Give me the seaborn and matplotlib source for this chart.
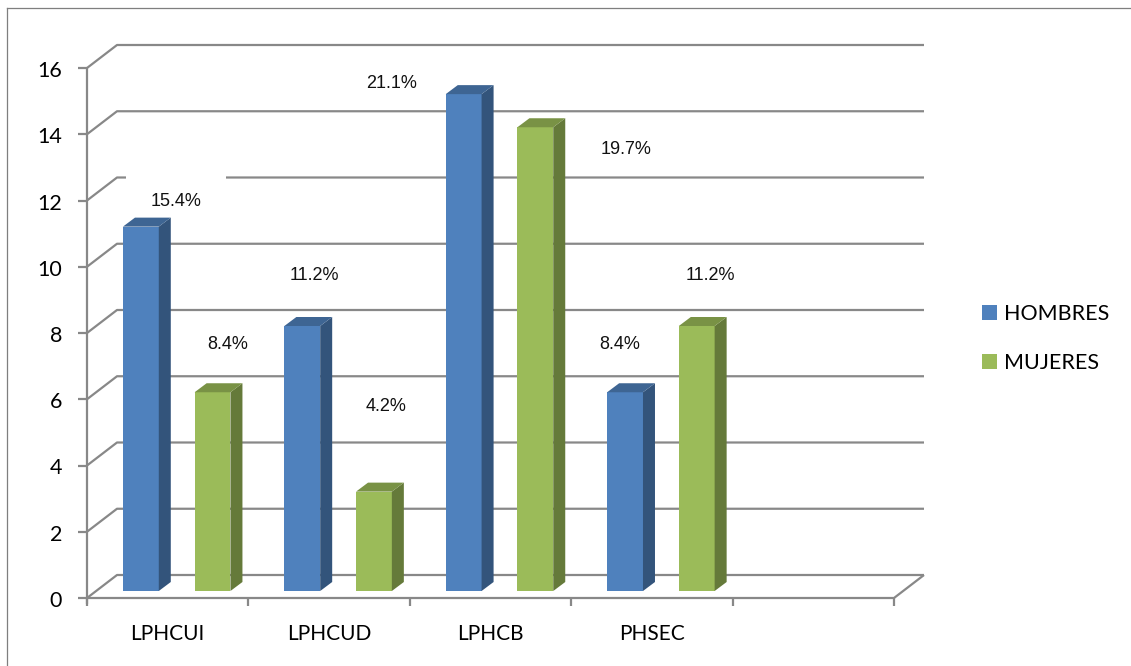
import matplotlib
matplotlib.use("Agg")
import matplotlib.pyplot as plt
from matplotlib.patches import Polygon, Rectangle
from matplotlib.lines import Line2D
import numpy as np
import pandas as pd
import seaborn as sns

# ---- data -------------------------------------------------------------
categorias = ["LPHCUI", "LPHCUD", "LPHCB", "PHSEC"]
series = ["HOMBRES", "MUJERES"]
hombres = [11, 8, 15, 6]
mujeres = [6, 3, 14, 8]
pct_hombres = ["15.4%", "11.2%", "21.1%", "8.4%"]
pct_mujeres = ["8.4%", "4.2%", "19.7%", "11.2%"]
y_ticks = [0, 2, 4, 6, 8, 10, 12, 14, 16]

# label placement relative to the top of each bar (pixels: right, up)
off_hombres = [(35, 23), (12, 49), (-72, 9), (-5, 46)]
off_mujeres = [(15, 46), (12, 83), (91, -24), (14, 49)]

# ---- style ------------------------------------------------------------
AZUL = "#4F81BD"
VERDE = "#9BBB59"
GRID = "#888888"
plt.rcParams["font.family"] = ["Lato", "DejaVu Sans"]

W, H = 1131, 666
fig = plt.figure(figsize=(W / 100, H / 100), dpi=100)
fig.patch.set_facecolor("white")

# axes = plane that holds the front faces of the bars
ax_l, ax_r, ax_b, ax_t = 96, 903, 591, 61
ax = fig.add_axes([ax_l / W, 1 - ax_b / H, (ax_r - ax_l) / W, (ax_b - ax_t) / H])

df = pd.DataFrame({
    "categoria": categorias * 2,
    "valor": hombres + mujeres,
    "sexo": [series[0]] * len(hombres) + [series[1]] * len(mujeres),
})

sns.barplot(data=df, x="categoria", y="valor", hue="sexo", order=categorias,
            hue_order=series, palette=[AZUL, VERDE], saturation=1,
            width=0.888, gap=0.5, errorbar=None, linewidth=0,
            edgecolor="none", zorder=3, ax=ax)

ax.set_xlim(-0.5, 4.5)
ax.set_ylim(0, 16)
ax.axis("off")

ppx = ax.bbox.width / 5.0    # pixels per category slot
ppy = ax.bbox.height / 16.0  # pixels per value unit

def plane(x, v, dxp, dyp):
    return x + dxp / ppx, v + dyp / ppy

FRONT = (-9, -7)   # floor edge / value axis plane
BACK = (21, 16)    # back wall plane
DEPTH = (12, 9)    # depth of each bar

line_kw = dict(color=GRID, lw=1.6, clip_on=False, solid_capstyle="butt", zorder=1)

# walls: back gridlines and side-wall diagonals
for t in y_ticks:
    fx, fy = plane(-0.5, t, *FRONT)
    bx, by = plane(-0.5, t, *BACK)
    ex, ey = plane(4.5, t, *BACK)
    ax.plot([fx, bx, ex], [fy, by, ey], **line_kw)

# floor front edge and right edge
fx0, fy0 = plane(-0.5, 0, *FRONT)
fx1, fy1 = plane(4.5, 0, *FRONT)
bx1, by1 = plane(4.5, 0, *BACK)
ax.plot([fx0, fx1, bx1], [fy0, fy1, by1], **line_kw)

# value axis line, ticks and labels
top_x, top_y = plane(-0.5, 16, *FRONT)
ax.plot([top_x, top_x], [top_y, fy0 - 6 / ppy], **line_kw)
for t in y_ticks:
    tx, ty = plane(-0.5, t, *FRONT)
    ax.plot([tx - 9 / ppx, tx], [ty, ty], **line_kw)
    ax.text(tx - 25 / ppx, ty - 9 / ppy, str(t), ha="right", va="baseline",
            fontsize=15.5, color="black")

# category ticks and labels
for k in range(6):
    tx, ty = plane(k - 0.5, 0, *FRONT)
    ax.plot([tx, tx], [ty, ty - 8 / ppy], **line_kw)
for i, cat in enumerate(categorias):
    cx, cy = plane(i, 0, *FRONT)
    ax.text(cx, cy - 42 / ppy, cat, ha="center", va="baseline",
            fontsize=15, color="black")

# 3-D look: side and top faces built from each bar patch
bars = sorted([p for p in ax.patches if isinstance(p, Rectangle) and p.get_height() > 0],
              key=lambda p: p.get_x())
ddx, ddy = DEPTH[0] / ppx, DEPTH[1] / ppy
for p in bars:
    x0, w, h = p.get_x(), p.get_width(), p.get_height()
    x1 = x0 + w
    rgb = np.array(p.get_facecolor()[:3])
    side = Polygon([(x1, 0), (x1, h), (x1 + ddx, h + ddy), (x1 + ddx, ddy)],
                   closed=True, facecolor=rgb * 0.65, edgecolor="none",
                   zorder=3, clip_on=False)
    top = Polygon([(x0, h), (x1, h), (x1 + ddx, h + ddy), (x0 + ddx, h + ddy)],
                  closed=True, facecolor=rgb * 0.78, edgecolor="none",
                  zorder=3, clip_on=False)
    ax.add_patch(side)
    ax.add_patch(top)

# percentage labels in white boxes (text cut at the bottom edge of its box)
etiquetas = []
offsets = []
for i in range(len(categorias)):
    etiquetas += [pct_hombres[i], pct_mujeres[i]]
    offsets += [off_hombres[i], off_mujeres[i]]

for p, txt, (dxp, dyp) in zip(bars, etiquetas, offsets):
    xc = p.get_x() + p.get_width() / 2
    h = p.get_height()
    cx, clip_v = plane(xc, h, dxp, dyp)
    box = Rectangle((cx - 50 / ppx, clip_v), 100 / ppx, 28 / ppy,
                    facecolor="white", edgecolor="none", zorder=4, clip_on=False)
    ax.add_patch(box)
    t = ax.text(cx, clip_v - 2.5 / ppy, txt, ha="center", va="baseline",
                fontsize=13, family=["Liberation Sans", "DejaVu Sans"],
                color="#111111", zorder=5)
    t.set_clip_path(box)

# legend
sns.move_legend(ax, "center left", bbox_to_anchor=(982 / W, 1 - 338.5 / H),
                bbox_transform=fig.transFigure, frameon=False, title=None,
                fontsize=15.5, handlelength=0.7, handleheight=0.7,
                handletextpad=0.32, labelspacing=1.35, borderpad=0,
                borderaxespad=0)

# chart frame
fig.add_artist(Line2D([7 / W, 7 / W], [0, 1 - 8 / H], transform=fig.transFigure,
                      color="#7F7F7F", lw=0.9))
fig.add_artist(Line2D([7 / W, 1], [1 - 8 / H, 1 - 8 / H], transform=fig.transFigure,
                      color="#7F7F7F", lw=0.9))

fig.savefig("out.png", dpi=100)
